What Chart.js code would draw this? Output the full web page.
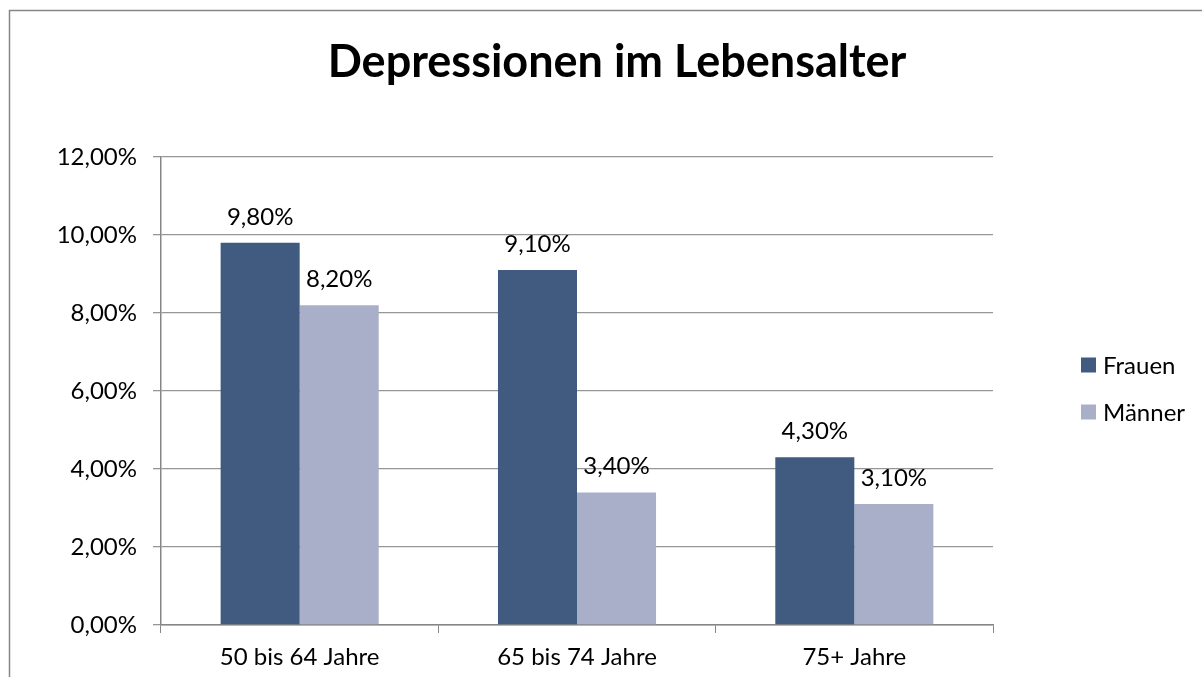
<!DOCTYPE html>
<html lang="de">
<head>
    <meta charset="UTF-8">
    <title>Depressionen im Lebensalter</title>
    <script src="https://cdn.jsdelivr.net/npm/chart.js"></script>
    <style>
        html, body {
            margin: 0;
            padding: 0;
            background: #fff;
            overflow: hidden;
        }
        .chart-wrapper {
            width: 1202px;
            height: 677px;
        }
        canvas {
            display: block;
        }
    </style>
</head>
<body>
    <div class="chart-wrapper">
        <canvas id="depressionChart" width="1202" height="677"></canvas>
    </div>

    <script>
        const chartTitle = 'Depressionen im Lebensalter';
        const ageGroups = ['50 bis 64 Jahre', '65 bis 74 Jahre', '75+ Jahre'];
        const seriesNames = ['Frauen', 'Männer'];
        const frauenValues = [9.8, 9.1, 4.3];
        const maennerValues = [8.2, 3.4, 3.1];
        const seriesColors = ['#405a80', '#a9afc9'];

        const fontFamily = 'Lato, "Open Sans", sans-serif';

        function formatPercent(v) {
            return v.toFixed(2).replace('.', ',') + '%';
        }

        // frame, title, value labels and legend
        const decorations = {
            id: 'decorations',
            beforeDraw(chart) {
                const ctx = chart.ctx;
                ctx.save();
                ctx.fillStyle = '#fff';
                ctx.fillRect(0, 0, chart.width, chart.height);
                ctx.strokeStyle = '#868686';
                ctx.lineWidth = 1.5;
                ctx.strokeRect(9.5, 10.5, 1400, 900);
                ctx.restore();
            },
            afterDatasetsDraw(chart) {
                const ctx = chart.ctx;
                ctx.save();
                // title
                ctx.fillStyle = '#000';
                ctx.font = 'bold 45px ' + fontFamily;
                ctx.textAlign = 'center';
                ctx.textBaseline = 'middle';
                ctx.fillText(chartTitle, 617, 62);

                // value labels above bars
                ctx.font = '24px ' + fontFamily;
                ctx.textBaseline = 'alphabetic';
                chart.data.datasets.forEach((ds, i) => {
                    const meta = chart.getDatasetMeta(i);
                    meta.data.forEach((bar, j) => {
                        ctx.fillText(formatPercent(ds.data[j]), bar.x, bar.y - 18);
                    });
                });

                // legend
                ctx.textAlign = 'left';
                ctx.textBaseline = 'middle';
                const legendY = [365, 412];
                chart.data.datasets.forEach((ds, i) => {
                    ctx.fillStyle = ds.backgroundColor;
                    ctx.fillRect(1081, legendY[i] - 7.5, 15, 15);
                    ctx.fillStyle = '#000';
                    ctx.fillText(ds.label, 1103, legendY[i] + 1);
                });
                ctx.restore();
            }
        };

        new Chart(document.getElementById('depressionChart').getContext('2d'), {
            type: 'bar',
            data: {
                labels: ageGroups,
                datasets: [
                    {
                        label: seriesNames[0],
                        data: frauenValues,
                        backgroundColor: seriesColors[0],
                        categoryPercentage: 0.57,
                        barPercentage: 1.0
                    },
                    {
                        label: seriesNames[1],
                        data: maennerValues,
                        backgroundColor: seriesColors[1],
                        categoryPercentage: 0.57,
                        barPercentage: 1.0
                    }
                ]
            },
            options: {
                responsive: false,
                animation: false,
                layout: {
                    padding: { left: 0, top: 157, right: 209, bottom: 0 }
                },
                plugins: {
                    legend: { display: false },
                    title: { display: false },
                    tooltip: { enabled: false }
                },
                scales: {
                    x: {
                        afterFit(scale) { scale.height = 52; },
                        grid: {
                            offset: true,
                            drawOnChartArea: false,
                            drawTicks: true,
                            tickLength: 8,
                            color: '#868686'
                        },
                        border: { color: '#868686', width: 1.5 },
                        ticks: {
                            color: '#000',
                            padding: 10,
                            font: { family: fontFamily, size: 24 }
                        }
                    },
                    y: {
                        min: 0,
                        max: 12,
                        afterFit(scale) { scale.width = 161; },
                        grid: {
                            color: '#969696',
                            lineWidth: 1.3,
                            drawTicks: true,
                            tickLength: 8
                        },
                        border: { color: '#868686', width: 1.5 },
                        ticks: {
                            stepSize: 2,
                            color: '#000',
                            padding: 16,
                            font: { family: fontFamily, size: 24 },
                            callback: (v) => formatPercent(v)
                        }
                    }
                }
            },
            plugins: [decorations]
        });
    </script>
</body>
</html>
